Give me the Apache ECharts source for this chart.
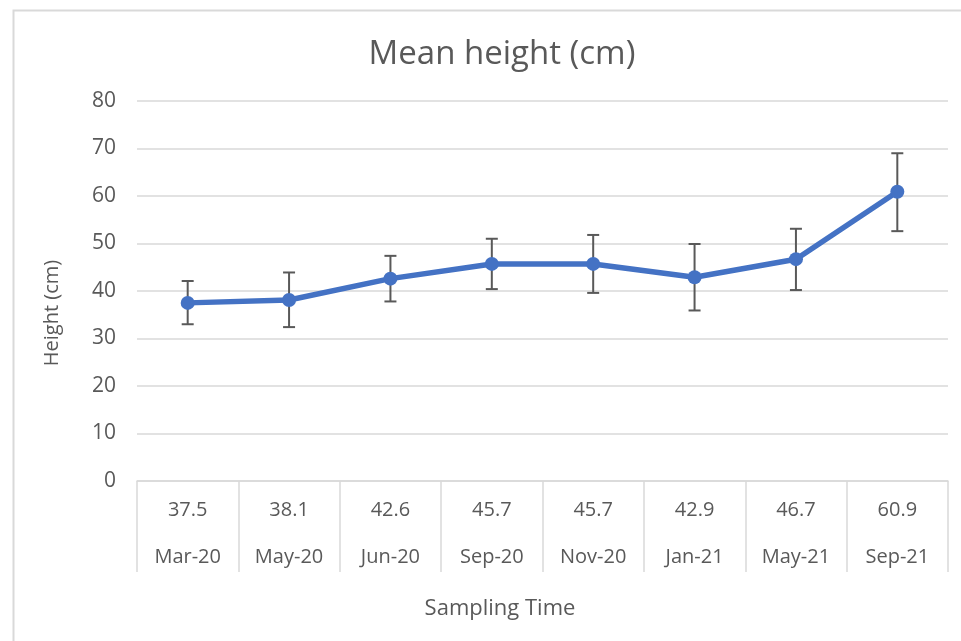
<!DOCTYPE html>
<html><head><meta charset="utf-8">
<script src="https://cdn.jsdelivr.net/npm/echarts@6/dist/echarts.min.js"></script>
<style>html,body{margin:0;padding:0;background:#fff}#c{width:961px;height:641px}</style>
</head><body><div id="c"></div>
<script>
var categories = ['Mar-20','May-20','Jun-20','Sep-20','Nov-20','Jan-21','May-21','Sep-21'];
var means = [37.5, 38.1, 42.6, 45.7, 45.7, 42.9, 46.7, 60.9];
var errLow = [33.0, 32.4, 37.8, 40.4, 39.6, 35.9, 40.2, 52.6];
var errHigh = [42.1, 43.9, 47.4, 51.0, 51.8, 49.9, 53.1, 69.0];
var yTicks = [0, 10, 20, 30, 40, 50, 60, 70, 80];

var FONT = '"Open Sans", "Noto Sans", sans-serif';
var TXT = '#595959';
var chart = echarts.init(document.getElementById('c'));
var errData = categories.map(function (c, i) { return [i, errLow[i], errHigh[i]]; });
chart.setOption({
  animation: false,
  backgroundColor: '#fff',
  graphic: [{
    type: 'rect', left: 11, top: 8, shape: { width: 1000, height: 700 },
    style: { fill: 'none', stroke: '#d9d9d9', lineWidth: 2 }, silent: true, z: -1
  }, {
    type: 'text', x: 52, y: 313, rotation: Math.PI / 2,
    style: { text: 'Height (cm)', fill: TXT, font: '20px ' + FONT, textAlign: 'center', textVerticalAlign: 'middle' }
  }, {
    type: 'text', x: 500, y: 609,
    style: { text: 'Sampling Time', fill: TXT, font: '22px ' + FONT, textAlign: 'center', textVerticalAlign: 'middle' }
  }],
  title: {
    text: 'Mean height (cm)', left: 497, textAlign: 'center', top: 33,
    textStyle: { fontFamily: FONT, fontSize: 33, fontWeight: 'normal', color: TXT }
  },
  grid: { left: 137, right: 13, top: 101, bottom: 160, containLabel: false },
  xAxis: {
    type: 'category', data: categories, boundaryGap: true,
    axisLine: { lineStyle: { color: '#d9d9d9', width: 1.5 } },
    axisTick: { show: true, length: 91, lineStyle: { color: '#d9d9d9', width: 1.5 } },
    axisLabel: {
      interval: 0, margin: 6, color: TXT, fontFamily: FONT, fontSize: 20, lineHeight: 47,
      formatter: function (v, i) { return means[i].toFixed(1) + '\n' + v; }
    }
  },
  yAxis: {
    type: 'value', min: yTicks[0], max: yTicks[yTicks.length - 1], interval: 10,
    axisLine: { show: false }, axisTick: { show: false },
    axisLabel: { margin: 21, color: TXT, fontFamily: FONT, fontSize: 21 },
    splitLine: { lineStyle: { color: '#d9d9d9', width: 1.5 } }
  },
  series: [{
    type: 'line', data: means, symbol: 'circle', symbolSize: 14,
    lineStyle: { color: '#4472C4', width: 5.5 }, itemStyle: { color: '#4472C4' }, z: 3
  }, {
    type: 'custom', data: errData, z: 2,
    renderItem: function (params, api) {
      var x = api.value(0);
      var lo = api.coord([x, api.value(1)]);
      var hi = api.coord([x, api.value(2)]);
      var w = 6;
      var st = { stroke: '#595959', lineWidth: 2 };
      return { type: 'group', children: [
        { type: 'line', shape: { x1: lo[0], y1: lo[1], x2: hi[0], y2: hi[1] }, style: st },
        { type: 'line', shape: { x1: lo[0] - w, y1: lo[1], x2: lo[0] + w, y2: lo[1] }, style: st },
        { type: 'line', shape: { x1: hi[0] - w, y1: hi[1], x2: hi[0] + w, y2: hi[1] }, style: st }
      ]};
    }
  }]
});
</script></body></html>
